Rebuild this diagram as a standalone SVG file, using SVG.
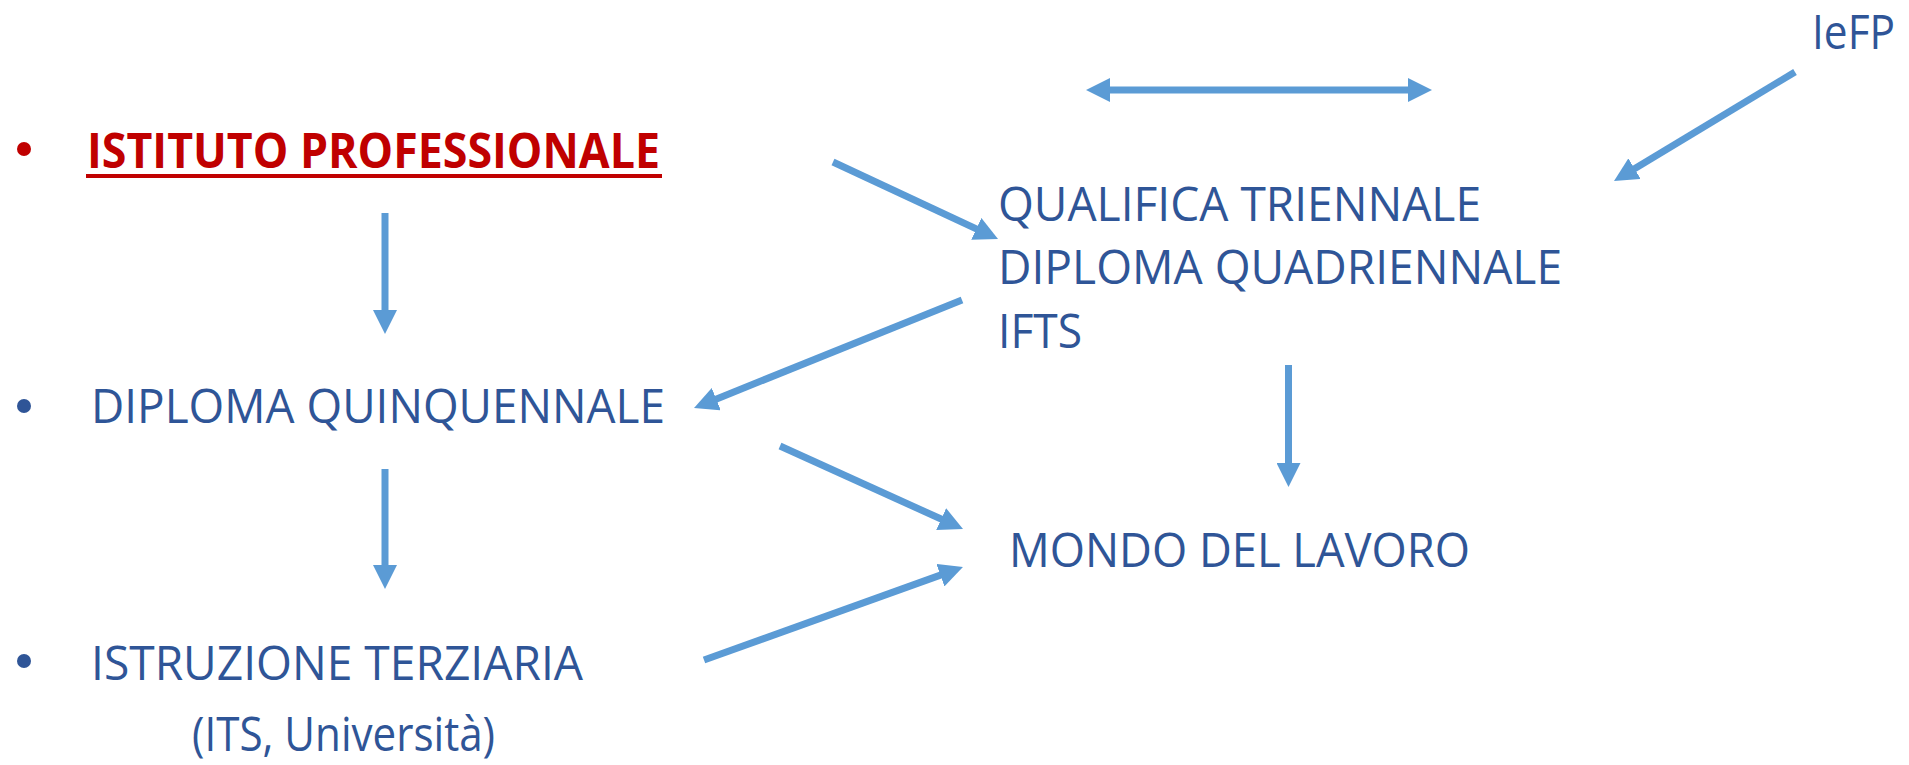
<svg xmlns="http://www.w3.org/2000/svg" width="1909" height="765" viewBox="0 0 1909 765">
<style>
.t{font-family:"Open Sans","Noto Sans","Liberation Sans",sans-serif;font-size:48px;fill:#2F5597}
.r{fill:#C00000;font-weight:700}
.c{stroke:#5B9BD5;stroke-width:7;fill:none}
.ah{fill:#5B9BD5}
</style>
<defs>
<marker id="ah" markerUnits="userSpaceOnUse" markerWidth="24" markerHeight="24" refX="3" refY="12" orient="auto-start-reverse" viewBox="0 0 24 24">
<path class="ah" d="M0,0 L24,12 L0,24 z"/>
</marker>
</defs>
<rect width="1909" height="765" fill="#fff"/>
<g id="istituto">
<circle cx="24" cy="149" r="7" fill="#C00000"/>
<text class="t r" x="87" y="168" textLength="573" lengthAdjust="spacingAndGlyphs">ISTITUTO PROFESSIONALE</text>
<rect x="86" y="174" width="576" height="4" fill="#C00000"/>
</g>
<g id="quinquennale">
<circle cx="24" cy="406" r="7" fill="#2F5597"/>
<text class="t" x="91" y="423" textLength="574" lengthAdjust="spacingAndGlyphs">DIPLOMA QUINQUENNALE</text>
</g>
<g id="terziaria">
<circle cx="24" cy="661" r="7" fill="#2F5597"/>
<text class="t" x="91" y="680" textLength="492" lengthAdjust="spacingAndGlyphs">ISTRUZIONE TERZIARIA</text>
<text class="t" x="192" y="751" textLength="303" lengthAdjust="spacingAndGlyphs">(ITS, Università)</text>
</g>
<g id="qualifica">
<text class="t" x="998" y="221" textLength="483" lengthAdjust="spacingAndGlyphs">QUALIFICA TRIENNALE</text>
<text class="t" x="998" y="284" textLength="564" lengthAdjust="spacingAndGlyphs">DIPLOMA QUADRIENNALE</text>
<text class="t" x="998" y="348" textLength="84" lengthAdjust="spacingAndGlyphs">IFTS</text>
</g>
<g id="lavoro">
<text class="t" x="1009" y="567" textLength="461" lengthAdjust="spacingAndGlyphs">MONDO DEL LAVORO</text>
</g>
<g id="iefp">
<text class="t" x="1812" y="49" font-size="47" textLength="83" lengthAdjust="spacingAndGlyphs" style="font-size:47px">IeFP</text>
</g>
<g id="connectors">
<line class="c" x1="1107" y1="90" x2="1411" y2="90" marker-start="url(#ah)" marker-end="url(#ah)"/>
<line class="c" x1="1795" y1="72" x2="1632" y2="170.2" marker-end="url(#ah)"/>
<line class="c" x1="833" y1="162" x2="979" y2="230.1" marker-end="url(#ah)"/>
<line class="c" x1="385" y1="213" x2="385" y2="313" marker-end="url(#ah)"/>
<line class="c" x1="962" y1="300" x2="713.5" y2="400.2" marker-end="url(#ah)"/>
<line class="c" x1="1288.5" y1="365" x2="1288.5" y2="466" marker-end="url(#ah)"/>
<line class="c" x1="780" y1="446" x2="943.9" y2="520.3" marker-end="url(#ah)"/>
<line class="c" x1="385" y1="469" x2="385" y2="568" marker-end="url(#ah)"/>
<line class="c" x1="704" y1="660" x2="943.2" y2="574.1" marker-end="url(#ah)"/>
</g>
</svg>
